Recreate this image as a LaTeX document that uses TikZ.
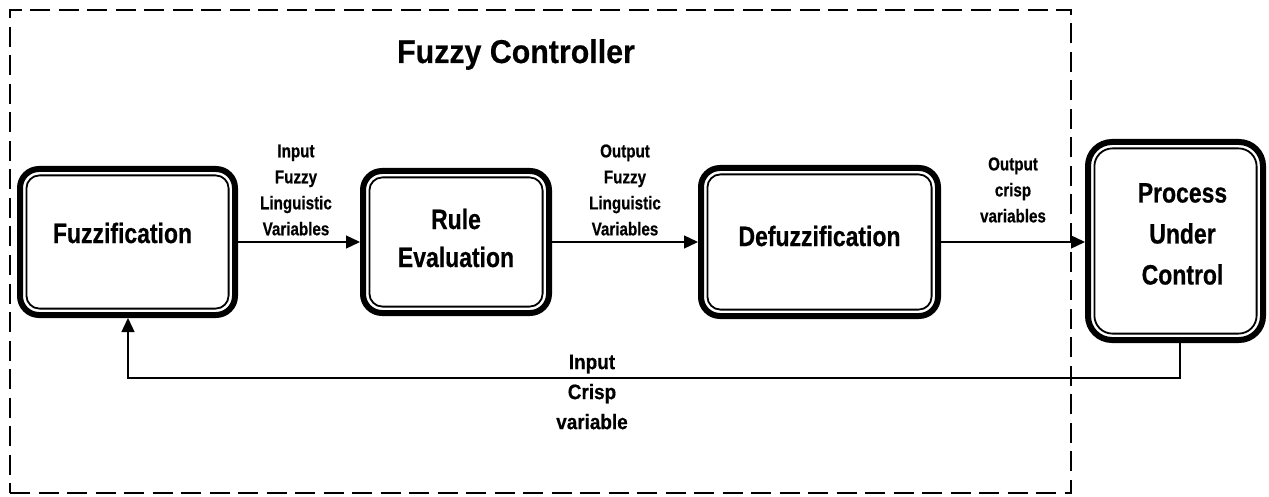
\documentclass[tikz,border=0pt]{standalone}
\usepackage{fontspec}
\setmainfont{Liberation Sans}
\newfontfamily\boxbold[FakeStretch=0.82,FakeBold=0.6]{Liberation Sans Bold}
\newfontfamily\titlebold[FakeStretch=0.92,FakeBold=0.4]{Liberation Sans Bold}
\newfontfamily\lblbold[FakeStretch=0.82,FakeBold=0.6]{Liberation Sans Bold}
\newfontfamily\fbbold[FakeStretch=0.9,FakeBold=0.5]{Liberation Sans Bold}
\usetikzlibrary{arrows.meta}
\begin{document}
\begin{tikzpicture}[x=1pt,y=-1pt,
  outerbox/.style={draw, line width=6pt, rounded corners=19pt, inner sep=0pt, outer sep=3pt},
  innerline/.style={line width=1.8pt, rounded corners=13pt},
  boxtext/.style={font=\boxbold\fontsize{28}{38}\selectfont, align=center, inner sep=0pt},
  lbl/.style={font=\lblbold\fontsize{18.5}{26}\selectfont, align=center, inner sep=0pt},
  fblbl/.style={font=\fbbold\fontsize{21}{30}\selectfont, align=center, inner sep=0pt},
  conn/.style={line width=1.3pt, -{Triangle[length=14pt,width=13pt]}},
  framebox/.style={draw, line width=2.5pt, dash pattern=on 20pt off 8.5pt, inner sep=0pt, outer sep=0pt},
]
\useasboundingbox (0,0) rectangle (1269,497);

% dashed controller frame
\node[framebox, minimum width=1061pt, minimum height=483pt] (ctrl) at (540.5,251.5) {};
\node[font=\titlebold\fontsize{33}{40}\selectfont, inner sep=0pt, anchor=base] (title) at (516,63) {Fuzzy Controller};

% blocks
\node[outerbox, minimum width=215pt, minimum height=146pt] (F) at (127.5,242) {};
\node[outerbox, minimum width=186pt, minimum height=142pt] (R) at (456,242) {};
\node[outerbox, minimum width=237pt, minimum height=148pt] (D) at (819.5,242) {};
\node[outerbox, minimum width=175pt, minimum height=198pt, rounded corners=24pt] (P) at (1175.5,241) {};

\foreach \n in {F,R,D}
  \draw[innerline] ([xshift=9.4pt,yshift=9.4pt]\n.south west) rectangle ([xshift=-9.4pt,yshift=-9.4pt]\n.north east);
\draw[innerline, rounded corners=18pt] ([xshift=9.4pt,yshift=9.4pt]P.south west) rectangle ([xshift=-9.4pt,yshift=-9.4pt]P.north east);

% block texts
\node[boxtext] (Ft) at ([xshift=-5pt,yshift=9pt]F.center) {Fuzzification};
\node[boxtext] (Rt) at ([yshift=4pt]R.center) {Rule\\Evaluation};
\node[boxtext] (Dt) at ([yshift=6pt]D.center) {Defuzzification};
\node[boxtext, font=\boxbold\fontsize{28}{41}\selectfont] (Pt) at ([xshift=7pt,yshift=7pt]P.center) {Process\\Under\\Control};

% connector labels
\node[lbl] (l1) at (296,190) {Input\\Fuzzy\\Linguistic\\Variables};
\node[lbl] (l2) at (625,190) {Output\\Fuzzy\\Linguistic\\Variables};
\node[lbl] (l3) at (1013,190) {Output\\crisp\\variables};
\node[fblbl] (l4) at (592,392) {Input\\Crisp\\variable};

% connectors
\draw[conn] (F.east) -- (F.east -| R.west);
\draw[conn] (R.east) -- (R.east -| D.west);
\draw[conn] (D.east) -- (D.east -| P.west);
\coordinate (fr) at (1180,378);
\coordinate (fl) at (128,378);
\draw[conn] (P.south -| fr) -- (fr) -- (fl) -- (fl |- F.south);
\end{tikzpicture}
\end{document}
